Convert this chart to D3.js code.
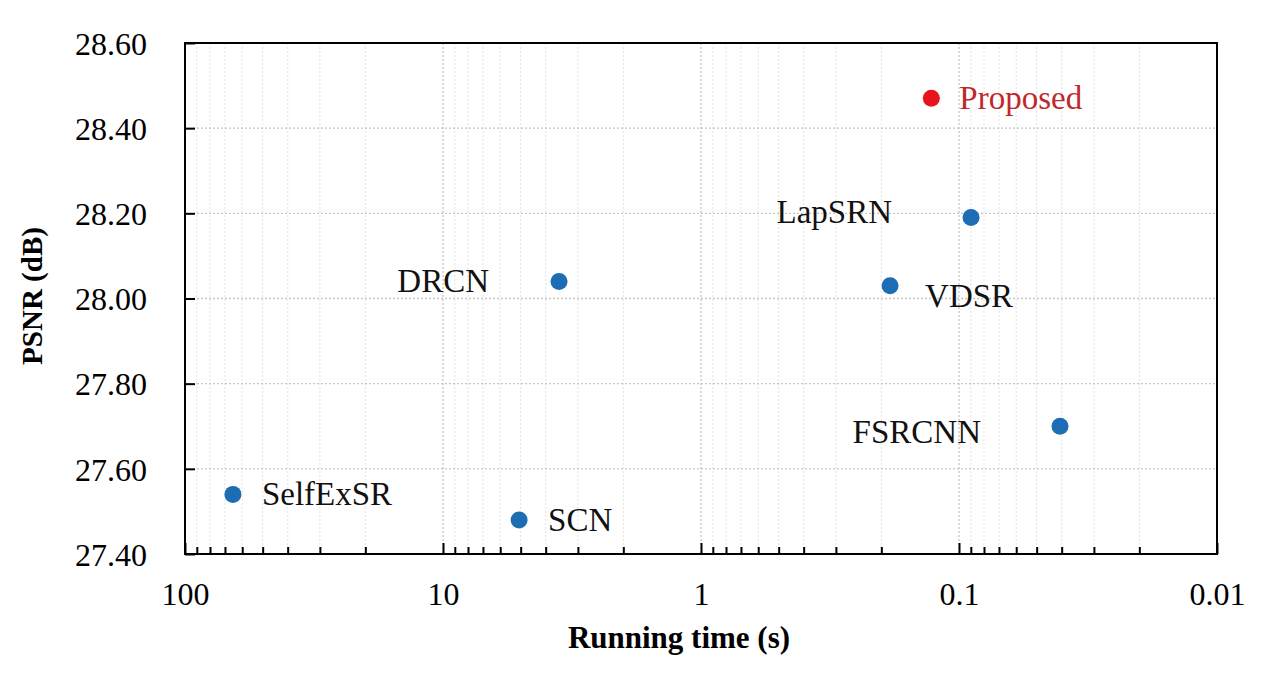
<!DOCTYPE html>
<html>
<head>
<meta charset="utf-8">
<script src="https://cdn.jsdelivr.net/npm/d3@7"></script>
<style>
  body { margin: 0; background: #fff; }
  text { font-family: "Liberation Serif", "Times New Roman", serif; }
</style>
</head>
<body>
<svg id="chart" width="1280" height="685"></svg>
<script>
  // data
  var methods = ["SelfExSR", "SCN", "DRCN", "VDSR", "LapSRN", "FSRCNN", "Proposed"];
  var runTime = [65.2, 5.07, 3.55, 0.185, 0.0898, 0.0406, 0.128];
  var psnr = [27.54, 27.48, 28.04, 28.03, 28.19, 27.70, 28.47];
  var xTicks = [100, 10, 1, 0.1, 0.01];
  var yTicks = [27.4, 27.6, 27.8, 28.0, 28.2, 28.4, 28.6];

  var margin = {top: 43, right: 63, bottom: 131, left: 185};
  var width = 1280 - margin.left - margin.right;
  var height = 685 - margin.top - margin.bottom;

  var svg = d3.select('#chart')
    .append('g')
    .attr('transform', `translate(${margin.left}, ${margin.top})`);

  var xScale = d3.scaleLog().domain([100, 0.01]).range([0, width]);
  var yScale = d3.scaleLinear().domain([27.4, 28.6]).range([height, 0]);

  // minor values between decades
  var minor = [];
  xTicks.slice(1).forEach(function(d){
    for (var k = 2; k <= 9; k++) minor.push(d * k);
  });

  // grid
  svg.append('g').selectAll('line.minor').data(minor).enter().append('line')
    .attr('x1', d => xScale(d)).attr('x2', d => xScale(d))
    .attr('y1', 0).attr('y2', height)
    .attr('stroke', '#e6e6e6').attr('stroke-width', 1.2)
    .attr('stroke-dasharray', '2,2');

  svg.append('g').selectAll('line.major').data(xTicks).enter().append('line')
    .attr('x1', d => xScale(d)).attr('x2', d => xScale(d))
    .attr('y1', 0).attr('y2', height)
    .attr('stroke', '#c4c4c4').attr('stroke-width', 1.3)
    .attr('stroke-dasharray', '2,2');

  svg.append('g').selectAll('line.y').data(yTicks).enter().append('line')
    .attr('x1', 0).attr('x2', width)
    .attr('y1', d => yScale(d)).attr('y2', d => yScale(d))
    .attr('stroke', '#c4c4c4').attr('stroke-width', 1.3)
    .attr('stroke-dasharray', '2,2');

  // axes, ticks point inward
  var xAxis = svg.append('g')
    .attr('transform', 'translate(0,' + height + ')')
    .call(d3.axisBottom(xScale).tickValues(xTicks).tickSize(-11).tickPadding(28)
      .tickFormat(d => d >= 1 ? String(d) : String(+d.toPrecision(1))));
  var xMinor = svg.append('g')
    .attr('transform', 'translate(0,' + height + ')')
    .call(d3.axisBottom(xScale).tickValues(minor).tickSize(-7).tickFormat(''));
  xMinor.select('.domain').remove();

  var yAxis = svg.append('g')
    .call(d3.axisLeft(yScale).tickValues(yTicks).tickSize(-10).tickPadding(38)
      .tickFormat(d3.format('.2f')));

  [xAxis, xMinor, yAxis].forEach(function(a){
    a.selectAll('.tick line').attr('stroke', '#000').attr('stroke-width', 2);
    a.selectAll('.tick text').attr('font-size', 32).attr('fill', '#000')
      .style('font-family', '"Liberation Serif", serif');
  });
  yAxis.selectAll('.tick text').attr('dy', '0.35em');

  // frame
  svg.append('rect')
    .attr('x', 0).attr('y', 0).attr('width', width).attr('height', height)
    .attr('fill', 'none').attr('stroke', '#000').attr('stroke-width', 2);
  svg.selectAll('.domain').remove();

  // points and labels
  var labelOffset = {
    SelfExSR: [29, 11, 'start'],
    SCN: [29, 11, 'start'],
    DRCN: [-70, 11, 'end'],
    VDSR: [35, 21, 'start'],
    LapSRN: [-79, 5, 'end'],
    FSRCNN: [-79, 17, 'end'],
    Proposed: [28, 11, 'start']
  };

  methods.forEach(function(m, i){
    var isOurs = m === 'Proposed';
    var cx = xScale(runTime[i]), cy = yScale(psnr[i]);
    svg.append('circle')
      .attr('cx', cx).attr('cy', cy).attr('r', 8.5)
      .attr('fill', isOurs ? '#e8141c' : '#1c6db4');
    var o = labelOffset[m];
    svg.append('text')
      .attr('x', cx + o[0]).attr('y', cy + o[1])
      .attr('text-anchor', o[2])
      .attr('font-size', 33)
      .attr('fill', isOurs ? '#c0282d' : '#111')
      .text(m);
  });

  // axis titles
  svg.append('text')
    .attr('x', 679 - margin.left).attr('y', 648 - margin.top)
    .attr('text-anchor', 'middle')
    .attr('font-size', 31).attr('font-weight', 'bold')
    .text('Running time (s)');

  svg.append('text')
    .attr('transform', 'translate(' + (42 - margin.left) + ',' + (296 - margin.top) + ') rotate(-90)')
    .attr('text-anchor', 'middle')
    .attr('font-size', 29).attr('font-weight', 'bold')
    .text('PSNR (dB)');
</script>
</body>
</html>
